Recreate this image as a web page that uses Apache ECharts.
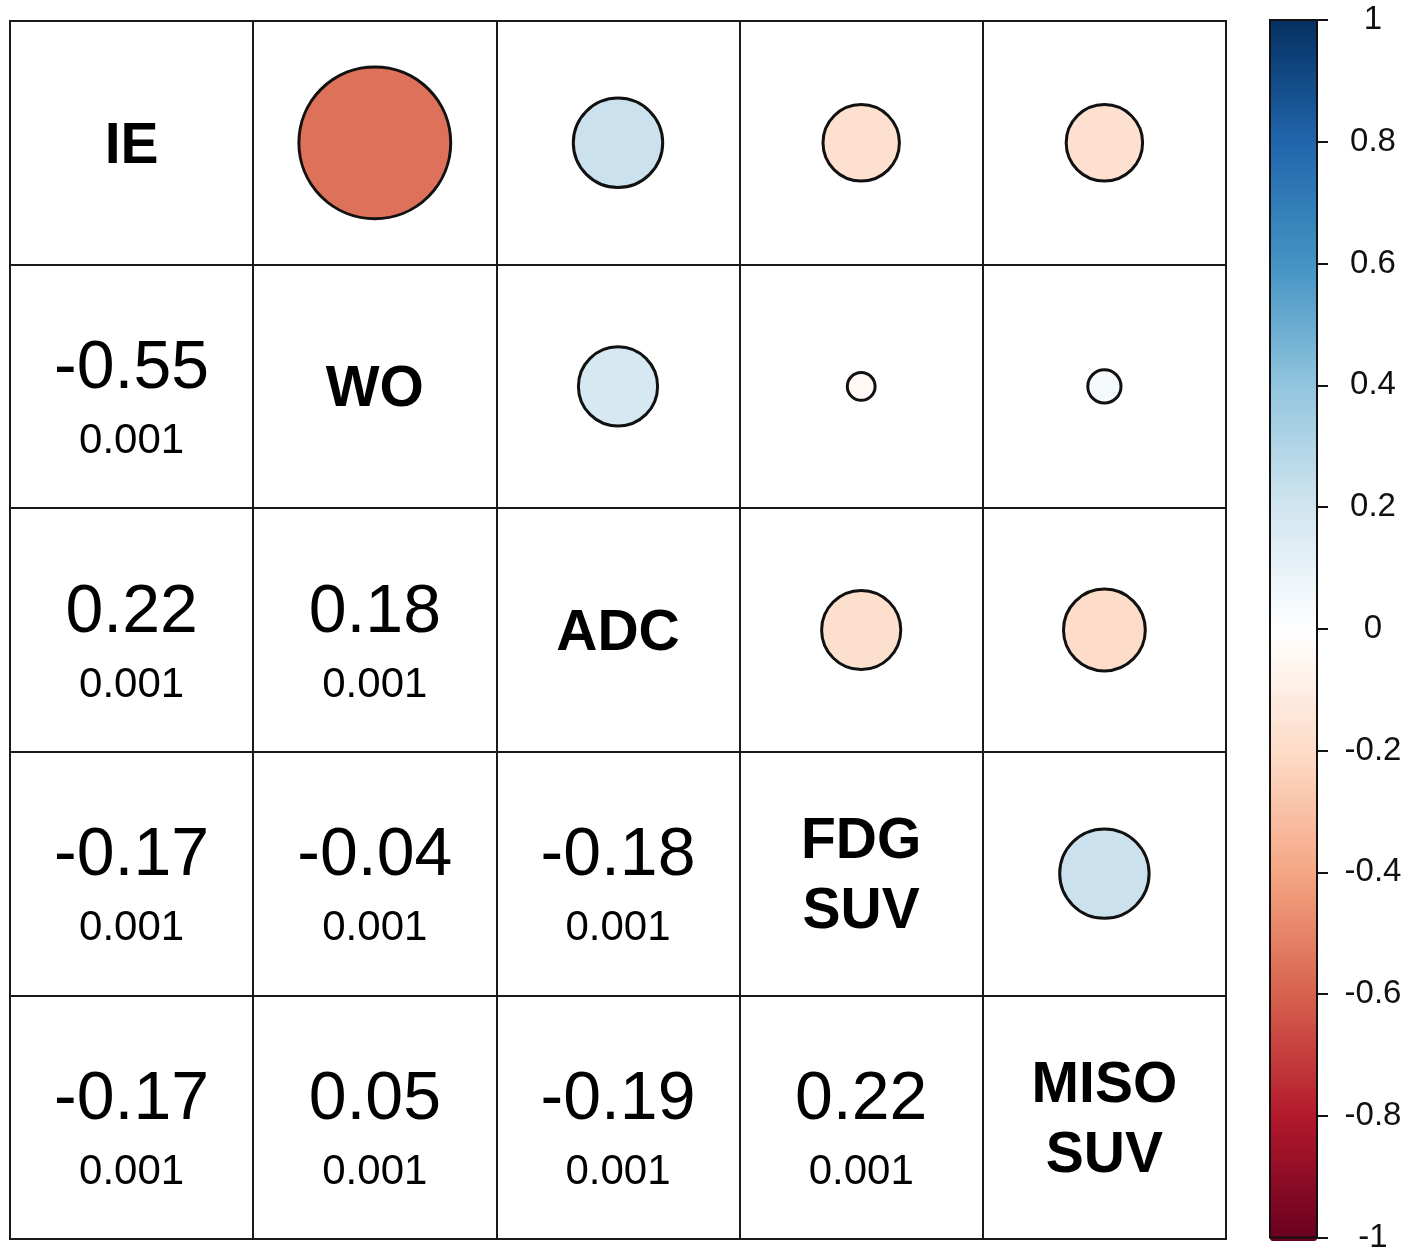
<!DOCTYPE html>
<html>
<head>
<meta charset="utf-8">
<script src="https://cdn.jsdelivr.net/npm/echarts@6/dist/echarts.min.js"></script>
<style>html,body{margin:0;padding:0;background:#fff;}#c{width:1420px;height:1254px;}</style>
</head>
<body>
<div id="c"></div>
<script>
const variables = ['IE', 'WO', 'ADC', 'FDG\nSUV', 'MISO\nSUV'];
const corr = [
  [1, -0.55, 0.22, -0.17, -0.17],
  [-0.55, 1, 0.18, -0.04, 0.05],
  [0.22, 0.18, 1, -0.18, -0.19],
  [-0.17, -0.04, -0.18, 1, 0.22],
  [-0.17, 0.05, -0.19, 0.22, 1]
];
const pvals = [
  ['', '', '', '', ''],
  ['0.001', '', '', '', ''],
  ['0.001', '0.001', '', '', ''],
  ['0.001', '0.001', '0.001', '', ''],
  ['0.001', '0.001', '0.001', '0.001', '']
];
const colorbarTicks = [-1, -0.8, -0.6, -0.4, -0.2, 0, 0.2, 0.4, 0.6, 0.8, 1];
const rdbu = ['#67001F', '#B2182B', '#D6604D', '#F4A582', '#FDDBC7', '#FFFFFF',
              '#D1E5F0', '#92C5DE', '#4393C3', '#2166AC', '#053061'];

const FONT = '"Liberation Sans", Arial, Helvetica, sans-serif';
const n = variables.length;

const circleData = [];
const valueLabels = [];
const diagLabels = [];
for (let i = 0; i < n; i++) {
  for (let j = 0; j < n; j++) {
    if (j > i) {
      circleData.push([j, i, corr[i][j]]);
    } else if (j < i) {
      valueLabels.push({ value: [j, i, corr[i][j]], p: pvals[i][j] });
    } else {
      diagLabels.push({ value: [j, i], name: variables[i] });
    }
  }
}

const chart = echarts.init(document.getElementById('c'), null, { renderer: 'canvas' });
chart.setOption({
  animation: false,
  backgroundColor: '#fff',
  grid: [
    { left: 10, top: 21, width: 1216, height: 1218, show: true, borderColor: '#1a1a1a', borderWidth: 2, z: 3 },
    { left: 1270, top: 20, width: 47, height: 1221, show: true, borderColor: '#111', borderWidth: 2, z: 8, backgroundColor: 'transparent' }
  ],
  xAxis: [
    { type: 'category', gridIndex: 0, data: variables, boundaryGap: true,
      axisLine: { show: false }, axisTick: { show: false }, axisLabel: { show: false },
      splitLine: { show: true, interval: 0, lineStyle: { color: '#1a1a1a', width: 2 } } },
    { type: 'value', gridIndex: 1, show: false, min: 0, max: 1 }
  ],
  yAxis: [
    { type: 'category', gridIndex: 0, data: variables, inverse: true, boundaryGap: true,
      axisLine: { show: false }, axisTick: { show: false }, axisLabel: { show: false },
      splitLine: { show: true, interval: 0, lineStyle: { color: '#1a1a1a', width: 2 } } },
    { type: 'value', gridIndex: 1, position: 'right', min: colorbarTicks[0], max: colorbarTicks[colorbarTicks.length - 1], interval: 0.2, z: 9,
      axisLine: { show: true, onZero: false, lineStyle: { color: '#111', width: 2 } },
      axisTick: { show: true, inside: false, length: 11, lineStyle: { color: '#111', width: 2 } },
      splitLine: { show: false },
      axisLabel: { show: true, margin: 56, align: 'center', fontSize: 33, color: '#111', fontFamily: FONT,
        formatter: v => String(Math.round(v * 10) / 10) } }
  ],
  visualMap: {
    type: 'continuous',
    min: -1, max: 1,
    dimension: 2,
    seriesIndex: 0,
    calculable: false,
    hoverLink: false,
    orient: 'vertical',
    left: 1270, top: 20,
    padding: 0,
    itemWidth: 47, itemHeight: 1221,
    text: null,
    showLabel: false,
    z: 1,
    inRange: { color: rdbu }
  },
  series: [
    {
      type: 'scatter', xAxisIndex: 0, yAxisIndex: 0,
      data: circleData,
      symbol: 'circle',
      symbolSize: v => 229 * Math.sqrt(Math.abs(v[2])) - 18,
      itemStyle: { borderColor: '#111', borderWidth: 3, opacity: 1 },
      z: 5
    },
    {
      type: 'scatter', xAxisIndex: 0, yAxisIndex: 0,
      data: valueLabels,
      symbolSize: 1,
      itemStyle: { color: 'rgba(0,0,0,0)', opacity: 1 },
      label: {
        show: true, position: 'inside', offset: [0, 19],
        formatter: p => '{r|' + p.data.value[2].toFixed(2) + '}\n{p|' + p.data.p + '}',
        rich: {
          r: { fontSize: 68, lineHeight: 72, color: '#000', fontFamily: FONT, align: 'center' },
          p: { fontSize: 42, lineHeight: 72, color: '#000', fontFamily: FONT, align: 'center' }
        }
      },
      z: 6
    },
    {
      type: 'scatter', xAxisIndex: 0, yAxisIndex: 0,
      data: diagLabels,
      symbolSize: 1,
      itemStyle: { color: 'rgba(0,0,0,0)', opacity: 1 },
      label: {
        show: true, position: 'inside', offset: [0, 4],
        formatter: p => p.name,
        fontSize: 57, fontWeight: 'bold', lineHeight: 70, color: '#000', fontFamily: FONT
      },
      z: 6
    }
  ]
});
</script>
</body>
</html>
